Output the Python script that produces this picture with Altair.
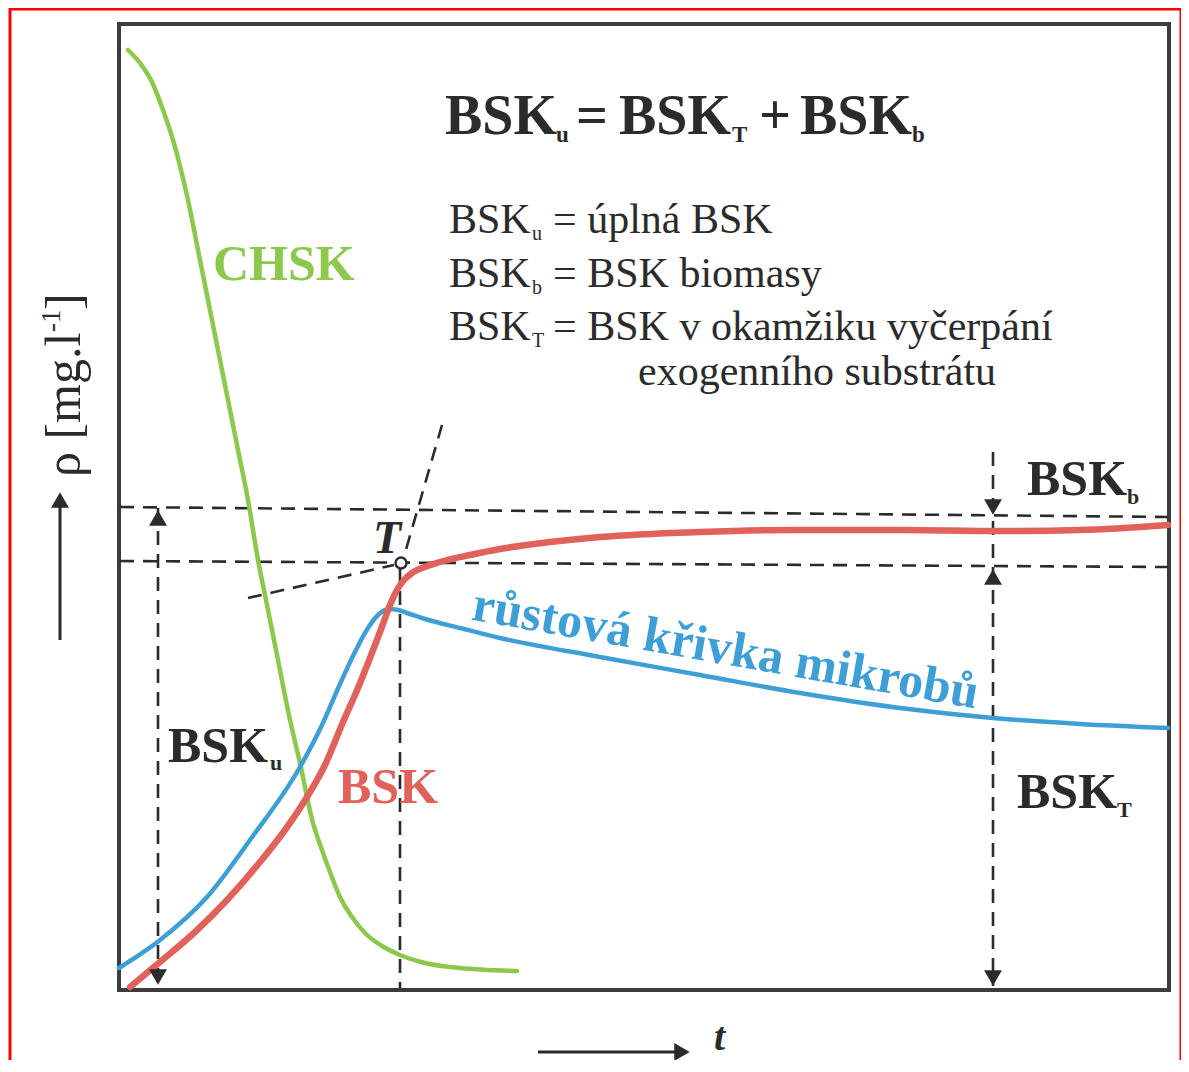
import altair as alt
import pandas as pd

# ---------------- data (schematic units: t along x, rho along y) ----------------
chsk_t = [9, 21, 33, 44, 54, 62, 69, 79, 89, 99, 109, 119, 129, 139, 147, 159, 171, 181, 194, 203, 211,
          221, 233, 247, 263, 281, 306, 341, 398]
chsk_rho = [940, 927, 908, 880, 850, 820, 790, 740, 690, 640, 590, 540, 490, 430, 390, 330, 270, 227, 167,
            140, 118, 93, 73, 56, 44, 35, 27, 22, 19]

bsk_t = [11, 41, 76, 108, 141, 166, 188, 206, 224, 239, 251, 261, 271, 278, 285, 293, 303, 321, 351, 381,
         431, 481, 581, 681, 781, 881, 961, 1049]
bsk_rho = [3, 28, 58, 90, 128, 160, 193, 225, 268, 302, 332, 358, 385, 400, 410, 417, 422, 428, 435, 441,
           448, 453, 458, 460, 460, 459, 460, 465]

growth_t = [0, 41, 88, 131, 181, 203, 221, 236, 249, 259, 269, 279, 291, 306, 341, 381, 481, 581, 681,
            781, 874, 961, 1049]
growth_rho = [22, 50, 93, 150, 223, 265, 306, 338, 362, 375, 381, 380, 376, 371, 362, 352, 333, 315, 297,
              282, 272, 266, 262]

# point T (end of exogenous substrate)
T_t, T_rho = 282, 427

W, H = 1050, 966
xscale = alt.Scale(domain=[0, W], nice=False, zero=False)
yscale = alt.Scale(domain=[0, H], nice=False, zero=False)

INK = "#2b2b2b"
GREEN = "#8cc84b"
RED = "#e0625b"
BLUE = "#3d9fd6"
SERIF = "Liberation Serif"


def X(f):
    return alt.X(f"{f}:Q", scale=xscale, axis=None)


def Y(f):
    return alt.Y(f"{f}:Q", scale=yscale, axis=None)


def curve(ts, rs, color, width):
    df = pd.DataFrame({"t": ts, "rho": rs})
    return alt.Chart(df).mark_line(color=color, strokeWidth=width, interpolate="monotone",
                                   strokeCap="round").encode(x=X("t"), y=Y("rho"), order="t:Q")


# dashed construction lines
dashed = pd.DataFrame([
    (1, 483, 1049, 473),     # BSK_u level
    (1, 429, 1049, 423),     # BSK_T level
    (39, 482, 39, 5),        # left BSK_u arrow shaft
    (281, 422, 281, 2),      # vertical under T
    (874, 538, 874, 4),      # right arrow shaft
    (323, 565, 284, 430),    # steep tangent
    (129, 392, 275, 425),    # shallow tangent
], columns=["t", "rho", "t2", "rho2"])

solid = pd.DataFrame([
    (-59, 350, -59, 490),    # rho axis arrow
    (419, -62, 561, -62),    # t axis arrow
], columns=["t", "rho", "t2", "rho2"])

heads = pd.DataFrame([
    (39, 472, "triangle-up"),
    (39, 13, "triangle-down"),
    (874, 483, "triangle-down"),
    (874, 413, "triangle-up"),
    (874, 12, "triangle-down"),
    (-59, 490, "triangle-up"),
    (563, -62, "triangle-right"),
], columns=["t", "rho", "shape"])

border = pd.DataFrame([(-109, 981, 1062, -100)], columns=["t", "rho", "t2", "rho2"])

# text annotations: label, t, rho, font size, colour
bold_labels = pd.DataFrame([
    ("BSK", 326, 856, 56, INK), ("u", 437, 848, 23, INK),
    ("=", 457, 856, 56, INK),
    ("BSK", 500, 856, 56, INK), ("T", 613, 848, 23, INK),
    ("+", 640, 856, 56, INK),
    ("BSK", 681, 856, 56, INK), ("b", 793, 848, 23, INK),
    ("CHSK", 94, 710, 50, GREEN),
    ("BSK", 49, 228, 50, INK), ("u", 151, 220, 22, INK),
    ("BSK", 219, 187, 50, RED),
    ("BSK", 908, 495, 50, INK), ("b", 1008, 486, 22, INK),
    ("BSK", 898, 182, 50, INK), ("T", 998, 173, 22, INK),
], columns=["label", "t", "rho", "size", "color"])

regular_labels = pd.DataFrame([
    ("BSK", 330, 757, 42), ("u", 413, 750, 20), ("= úplná BSK", 434, 757, 42),
    ("BSK", 330, 703, 42), ("b", 413, 696, 20), ("= BSK biomasy", 434, 703, 42),
    ("BSK", 330, 650, 42), ("T", 413, 643, 20), ("= BSK v okamžiku vyčerpání", 434, 650, 42),
    ("exogenního substrátu", 519, 605, 42),
], columns=["label", "t", "rho", "size"])

italic_labels = pd.DataFrame([
    ("T", 254, 437, 46),
    ("t", 595, -60, 40),
], columns=["label", "t", "rho", "size"])

yaxis_labels = pd.DataFrame([
    ("ρ [mg.l", -39, 513, 50),
    ("-1", -59, 658, 27),
    ("]", -39, 680, 50),
], columns=["label", "t", "rho", "size"])

growth_label = pd.DataFrame([("růstová křivka mikrobů", 604, 326, 50)],
                            columns=["label", "t", "rho", "size"])

# ---------------- layers ----------------
border_layer = alt.Chart(border).mark_rect(fill="white", fillOpacity=0, stroke="#ff0000", strokeWidth=3).encode(
    x=X("t"), y=Y("rho"), x2="t2:Q", y2="rho2:Q")

dashed_layer = alt.Chart(dashed).mark_rule(color=INK, strokeWidth=2.6, strokeDash=[14, 9]).encode(
    x=X("t"), y=Y("rho"), x2="t2:Q", y2="rho2:Q")

solid_layer = alt.Chart(solid).mark_rule(color=INK, strokeWidth=3).encode(
    x=X("t"), y=Y("rho"), x2="t2:Q", y2="rho2:Q")

head_layer = alt.Chart(heads).mark_point(filled=True, color=INK, opacity=1, size=320).encode(
    x=X("t"), y=Y("rho"), shape=alt.Shape("shape:N", scale=None))

t_point = alt.Chart(pd.DataFrame({"t": [T_t], "rho": [T_rho]})).mark_point(
    shape="circle", filled=True, fill="white", stroke=INK, strokeWidth=2.4, size=120, opacity=1).encode(
    x=X("t"), y=Y("rho"))

bold_layer = alt.Chart(bold_labels).mark_text(font=SERIF, fontWeight="bold", align="left",
                                              baseline="alphabetic").encode(
    x=X("t"), y=Y("rho"), text="label:N", size=alt.Size("size:Q", scale=None),
    color=alt.Color("color:N", scale=None))

regular_layer = alt.Chart(regular_labels).mark_text(font=SERIF, align="left", baseline="alphabetic",
                                                    color=INK).encode(
    x=X("t"), y=Y("rho"), text="label:N", size=alt.Size("size:Q", scale=None))

italic_layer = alt.Chart(italic_labels).mark_text(font=SERIF, fontWeight="bold", fontStyle="italic",
                                                  align="left", baseline="alphabetic", color=INK).encode(
    x=X("t"), y=Y("rho"), text="label:N", size=alt.Size("size:Q", scale=None))

yaxis_layer = alt.Chart(yaxis_labels).mark_text(font=SERIF, align="left", baseline="alphabetic",
                                                angle=270, color=INK).encode(
    x=X("t"), y=Y("rho"), text="label:N", size=alt.Size("size:Q", scale=None))

growth_layer = alt.Chart(growth_label).mark_text(font=SERIF, fontWeight="bold", align="center",
                                                 baseline="alphabetic", angle=10, color=BLUE).encode(
    x=X("t"), y=Y("rho"), text="label:N", size=alt.Size("size:Q", scale=None))

chart = alt.layer(
    border_layer,
    dashed_layer,
    solid_layer,
    curve(chsk_t, chsk_rho, GREEN, 4.5),
    curve(growth_t, growth_rho, BLUE, 4.5),
    curve(bsk_t, bsk_rho, RED, 6.5),
    t_point,
    head_layer,
    bold_layer,
    regular_layer,
    italic_layer,
    yaxis_layer,
    growth_layer,
).properties(
    width=W, height=H,
    autosize=alt.AutoSizeParams(type="none"),
    padding={"left": 111, "top": 16, "right": 12, "bottom": 70},
    background="white",
).configure_view(stroke="#3c3c3c", strokeWidth=4)

chart.save("out.html", embed_options={"renderer": "svg", "actions": False})
